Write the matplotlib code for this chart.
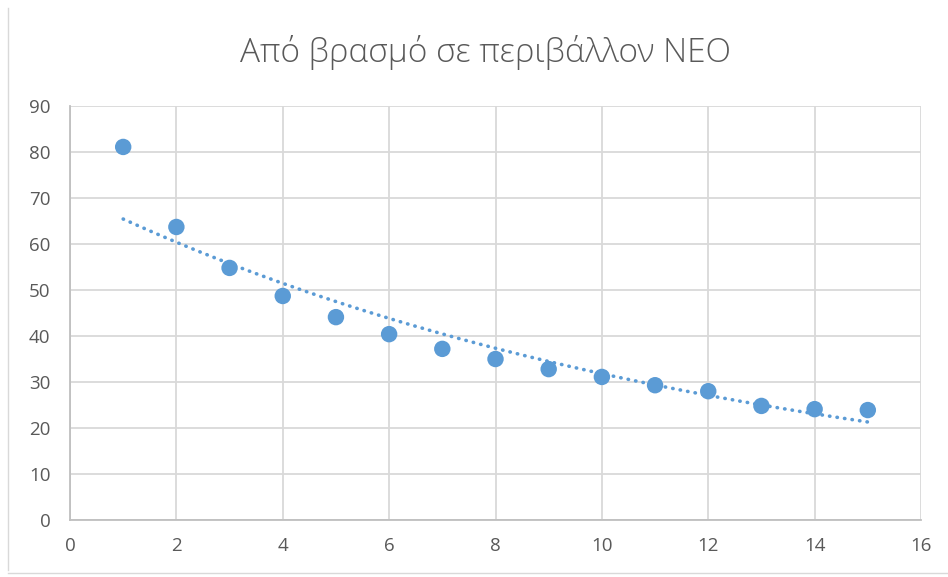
import numpy as np
import matplotlib
matplotlib.use("Agg")
import matplotlib.pyplot as plt
from matplotlib.lines import Line2D

plt.rcParams['font.family'] = ['Open Sans', 'DejaVu Sans']

title = "Από βρασμό σε περιβάλλον ΝΕΟ"
x_vals = [1, 2, 3, 4, 5, 6, 7, 8, 9, 10, 11, 12, 13, 14, 15]
y_vals = [81.1, 63.7, 54.8, 48.7, 44.1, 40.4, 37.2, 35.0, 32.8, 31.1, 29.3, 28.0, 24.8, 24.1, 23.9]
x_ticks = [0, 2, 4, 6, 8, 10, 12, 14, 16]
y_ticks = [0, 10, 20, 30, 40, 50, 60, 70, 80, 90]

blue = "#5B9BD5"
grid_c = "#D9D9D9"
text_c = "#595959"

fig = plt.figure(figsize=(9.48, 5.77), dpi=100)
ax = fig.add_axes([70/948, 1-520/577, (921-70)/948, (520-106)/577])

x = np.array(x_vals, dtype=float)
y = np.array(y_vals, dtype=float)

# exponential trendline (Excel style)
b, a = np.polyfit(x, np.log(y), 1)
xt = np.linspace(x.min(), x.max(), 200)
yt = np.exp(a + b * xt)
ax.plot(xt, yt, color=blue, lw=2.6, linestyle=(0, (0.1, 2.0)), dash_capstyle='round', zorder=2)

ax.scatter(x, y, s=140, color=blue, edgecolors='none', zorder=3)

ax.set_xlim(0, 16)
ax.set_ylim(0, 90)
ax.set_xticks(x_ticks)
ax.set_yticks(y_ticks)
ax.grid(True, color=grid_c, lw=1.3)
ax.set_axisbelow(True)
for s in ['top', 'right']:
    ax.spines[s].set_visible(False)
for s in ['left', 'bottom']:
    ax.spines[s].set_color("#BFBFBF")
    ax.spines[s].set_linewidth(1.3)
ax.tick_params(length=0, labelsize=13.5, labelcolor=text_c)
ax.tick_params(axis='y', pad=14)
ax.tick_params(axis='x', pad=12)

fig.text(486/948, 1-52/577, title, ha='center', va='center', fontsize=24, color=text_c, fontweight='light')

# chart area border fragments
fig.add_artist(Line2D([8/948, 8/948], [1-570/577, 1-8/577], transform=fig.transFigure, color="#D9D9D9", lw=1))
fig.add_artist(Line2D([8/948, 1], [1-573/577, 1-573/577], transform=fig.transFigure, color="#D9D9D9", lw=1))

fig.savefig("out.png", dpi=100)
